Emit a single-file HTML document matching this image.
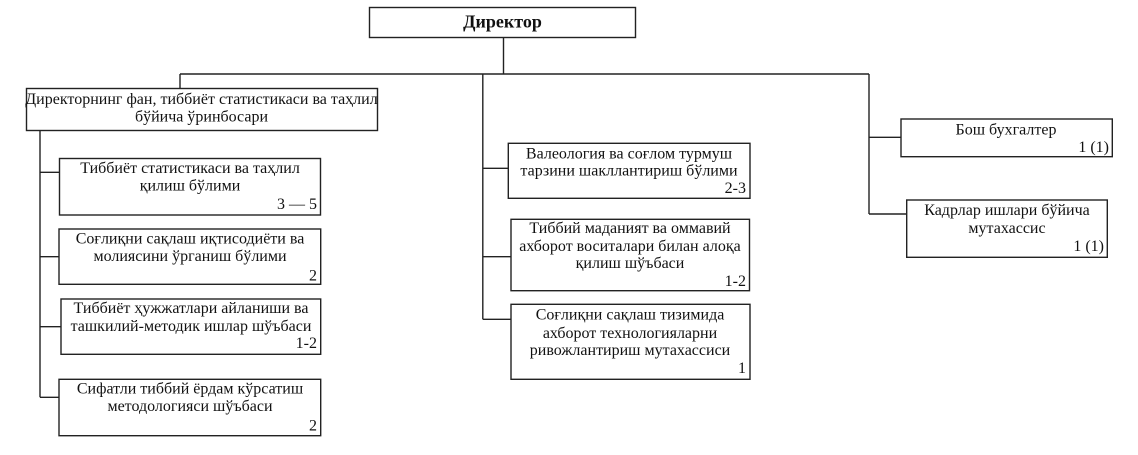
<!DOCTYPE html>
<html>
<head>
<meta charset="utf-8">
<style>
html,body{margin:0;padding:0;background:#fff;}
svg{display:block;}
text{font-family:"Liberation Serif","DejaVu Serif",serif;font-size:16px;fill:#111;}
.c{text-anchor:middle;}
.r{text-anchor:end;}
.b{font-weight:bold;font-size:18px;}
</style>
</head>
<body>
<svg width="1138" height="455" viewBox="0 0 1138 455" xmlns="http://www.w3.org/2000/svg">
<g fill="none" stroke="#222" stroke-width="1.4">
  <!-- boxes -->
  <rect x="369.5" y="7.5" width="266" height="30"/>
  <rect x="26.5" y="88.5" width="351" height="42"/>
  <rect x="59.5" y="158.5" width="261" height="56.5"/>
  <rect x="59" y="229" width="261.7" height="55.3"/>
  <rect x="61" y="299" width="259.7" height="55.3"/>
  <rect x="59" y="379.3" width="261.7" height="56.4"/>
  <rect x="508.3" y="143.3" width="241.7" height="55"/>
  <rect x="511" y="219.3" width="238.5" height="71.4"/>
  <rect x="511" y="304.3" width="239" height="75"/>
  <rect x="901" y="119" width="211.3" height="37.7"/>
  <rect x="906.7" y="200" width="200.6" height="57.3"/>
  <!-- connectors -->
  <path d="M503.5 37.5 V74 M180 74 H869 M180 74 V88.5"/>
  <path d="M40 130.5 V397.3 M40 172.3 H59.5 M40 256.7 H59 M40 326.7 H61 M40 397.3 H59"/>
  <path d="M482.8 74 V319.3 M482.8 168.3 H508.3 M482.8 256.7 H511 M482.8 319.3 H511"/>
  <path d="M869 74 V214 M869 137.3 H901 M869 214 H906.7"/>
</g>
<g dominant-baseline="central">
  <text class="c b" x="502.5" y="21.5">Директор</text>

  <text class="c" x="201.5" y="99.5">Директорнинг фан, тиббиёт статистикаси ва таҳлил</text>
  <text class="c" x="201.5" y="117">бўйича ўринбосари</text>

  <text class="c" x="190" y="168.3">Тиббиёт статистикаси ва таҳлил</text>
  <text class="c" x="190" y="186">қилиш бўлими</text>
  <text class="r" x="317" y="204.3">3 — 5</text>

  <text class="c" x="190" y="239">Соғлиқни сақлаш иқтисодиёти ва</text>
  <text class="c" x="190" y="256.7">молиясини ўрганиш бўлими</text>
  <text class="r" x="317" y="276">2</text>

  <text class="c" x="191" y="308.3">Тиббиёт ҳужжатлари айланиши ва</text>
  <text class="c" x="191" y="326.7">ташкилий-методик ишлар шўъбаси</text>
  <text class="r" x="317" y="343.3">1-2</text>

  <text class="c" x="190" y="389">Сифатли тиббий ёрдам кўрсатиш</text>
  <text class="c" x="190" y="406.7">методологияси шўъбаси</text>
  <text class="r" x="317" y="426">2</text>

  <text class="c" x="629" y="154">Валеология ва соғлом турмуш</text>
  <text class="c" x="629" y="171">тарзини шакллантириш бўлими</text>
  <text class="r" x="746" y="188.3">2-3</text>

  <text class="c" x="630" y="228.3">Тиббий маданият ва оммавий</text>
  <text class="c" x="630" y="246.7">ахборот воситалари билан алоқа</text>
  <text class="c" x="630" y="263.3">қилиш шўъбаси</text>
  <text class="r" x="746" y="281.7">1-2</text>

  <text class="c" x="630" y="315">Соғлиқни сақлаш тизимида</text>
  <text class="c" x="630" y="333.3">ахборот технологияларни</text>
  <text class="c" x="630" y="350.7">ривожлантириш мутахассиси</text>
  <text class="r" x="746" y="368.3">1</text>

  <text class="c" x="1006" y="130">Бош бухгалтер</text>
  <text class="r" x="1109" y="147.7">1 (1)</text>

  <text class="c" x="1007" y="210.7">Кадрлар ишлари бўйича</text>
  <text class="c" x="1007" y="228.3">мутахассис</text>
  <text class="r" x="1104" y="246.7">1 (1)</text>
</g>
</svg>
</body>
</html>
